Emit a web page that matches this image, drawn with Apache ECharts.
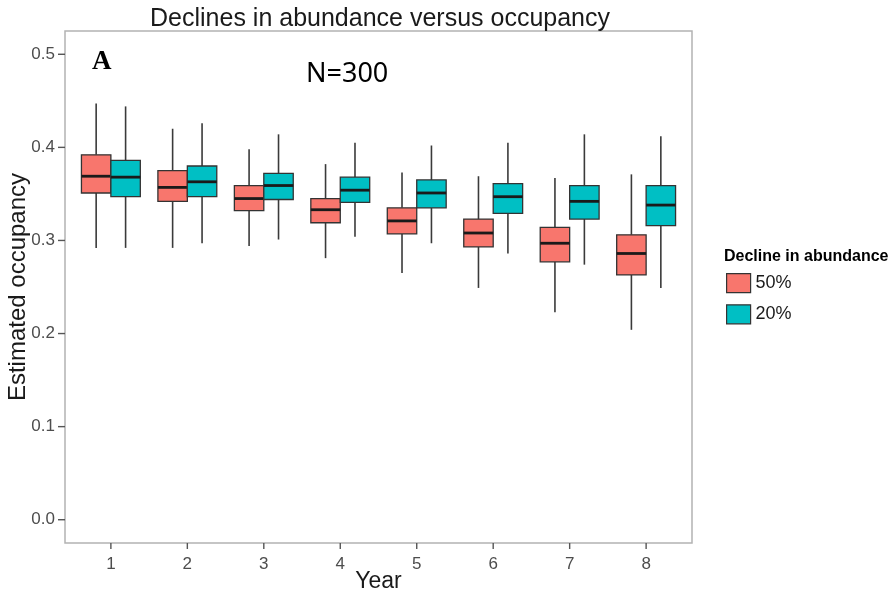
<!DOCTYPE html>
<html>
<head>
<meta charset="utf-8">
<title>Declines in abundance versus occupancy</title>
<script src="https://cdn.jsdelivr.net/npm/echarts@6/dist/echarts.min.js"></script>
<style>
  html, body { margin: 0; padding: 0; background: #fff; }
  #chart { width: 891px; height: 598px; }
</style>
</head>
<body>
<div id="chart"></div>
<script>
// 数据：每年两组箱线图（50% / 20% 丰度下降）
var years = [1, 2, 3, 4, 5, 6, 7, 8];
var yTicks = [0, 0.1, 0.2, 0.3, 0.4, 0.5];

// 50% decline
var low50 = [0.292, 0.292, 0.294, 0.281, 0.265, 0.249, 0.223, 0.204];
var q1_50 = [0.351, 0.342, 0.332, 0.319, 0.307, 0.293, 0.277, 0.263];
var med50 = [0.369, 0.357, 0.345, 0.333, 0.321, 0.308, 0.297, 0.286];
var q3_50 = [0.392, 0.375, 0.359, 0.345, 0.335, 0.323, 0.314, 0.306];
var high50 = [0.447, 0.420, 0.398, 0.382, 0.373, 0.369, 0.367, 0.371];

// 20% decline
var low20 = [0.292, 0.297, 0.301, 0.304, 0.297, 0.286, 0.274, 0.249];
var q1_20 = [0.347, 0.347, 0.344, 0.341, 0.335, 0.329, 0.323, 0.316];
var med20 = [0.368, 0.363, 0.359, 0.354, 0.351, 0.347, 0.342, 0.338];
var q3_20 = [0.386, 0.380, 0.372, 0.368, 0.365, 0.361, 0.359, 0.359];
var high20 = [0.444, 0.426, 0.414, 0.405, 0.402, 0.405, 0.414, 0.412];

function buildRows(lo, q1, med, q3, hi) {
  return years.map(function(y, i) {
    return [y, lo[i], q1[i], med[i], q3[i], hi[i]];
  });
}

// 画一个箱子（通过坐标轴换算位置）
function renderBox(params, api) {
  var x = api.value(0);
  var side = params.seriesIndex === 0 ? -1 : 1;
  var w = api.size([1, 0])[0] * 0.385;
  var cx = api.coord([x, 0])[0] + side * w / 2;
  var yLo = api.coord([x, api.value(1)])[1];
  var yQ1 = api.coord([x, api.value(2)])[1];
  var yMed = api.coord([x, api.value(3)])[1];
  var yQ3 = api.coord([x, api.value(4)])[1];
  var yHi = api.coord([x, api.value(5)])[1];
  var lineStyle = { stroke: '#3a3a3a', lineWidth: 1.6 };
  return {
    type: 'group',
    children: [
      { type: 'line', shape: { x1: cx, y1: yHi, x2: cx, y2: yQ3 }, style: lineStyle },
      { type: 'line', shape: { x1: cx, y1: yQ1, x2: cx, y2: yLo }, style: lineStyle },
      {
        type: 'rect',
        shape: { x: cx - w / 2, y: yQ3, width: w, height: yQ1 - yQ3 },
        style: { fill: api.visual('color'), stroke: '#333', lineWidth: 1.3 }
      },
      {
        type: 'line',
        shape: { x1: cx - w / 2, y1: yMed, x2: cx + w / 2, y2: yMed },
        style: { stroke: '#1a1a1a', lineWidth: 2.8 }
      }
    ]
  };
}

// 坐标轴外侧的刻度线（按刻度值换算位置）
var tickStyle = { stroke: '#555', lineWidth: 1.4 };
function renderYTick(params, api) {
  var cs = params.coordSys;
  var y = api.coord([1, api.value(1)])[1];
  return { type: 'line', shape: { x1: cs.x - 7, y1: y, x2: cs.x, y2: y }, style: tickStyle };
}
function renderXTick(params, api) {
  var cs = params.coordSys;
  var x = api.coord([api.value(0), 0])[0];
  var yb = cs.y + cs.height;
  return { type: 'line', shape: { x1: x, y1: yb, x2: x, y2: yb + 6 }, style: tickStyle };
}

var myChart = echarts.init(document.getElementById('chart'));
var option = {
  animation: false,
  textStyle: { fontFamily: 'Liberation Sans, Arial, sans-serif' },
  title: [
    {
      text: 'Declines in abundance versus occupancy',
      left: 375,
      top: 2,
      textAlign: 'center',
      textStyle: { fontSize: 25, fontWeight: 'normal', color: '#1a1a1a' }
    },
    {
      text: 'A',
      left: 87,
      top: 44,
      textStyle: { fontSize: 27, fontWeight: 'bold', color: '#000', fontFamily: 'Liberation Serif, DejaVu Serif, serif' }
    },
    {
      text: 'N=300',
      left: 301,
      top: 56,
      textStyle: { fontSize: 27, fontWeight: 'normal', color: '#000', fontFamily: 'Noto Sans, Liberation Sans, sans-serif' }
    },
    {
      text: 'Decline in abundance',
      left: 719,
      top: 244,
      textStyle: { fontSize: 16, fontWeight: 'bold', color: '#000' }
    }
  ],
  legend: {
    orient: 'vertical',
    left: 721,
    top: 268,
    itemWidth: 24,
    itemHeight: 19,
    itemGap: 11,
    icon: 'rect',
    itemStyle: { borderColor: '#333', borderWidth: 1.2 },
    textStyle: { fontSize: 18, color: '#1a1a1a' },
    data: ['50%', '20%']
  },
  grid: {
    left: 65,
    right: 199,
    top: 31,
    bottom: 55,
    outerBoundsMode: 'none',
    containLabel: false,
    show: true,
    borderColor: '#b3b3b3',
    borderWidth: 1.5
  },
  xAxis: {
    type: 'value',
    min: 0.4,
    max: 8.6,
    name: 'Year',
    nameLocation: 'middle',
    nameGap: 27,
    nameMoveOverlap: false,
    nameTextStyle: { fontSize: 23, color: '#1a1a1a' },
    axisLine: { show: false, onZero: false },
    splitLine: { show: false },
    axisTick: { show: false },
    axisLabel: { customValues: years, fontSize: 17, color: '#4d4d4d', margin: 13 }
  },
  yAxis: {
    type: 'value',
    min: -0.025,
    max: 0.525,
    name: 'Estimated occupancy',
    nameLocation: 'middle',
    nameGap: 35,
    nameMoveOverlap: false,
    nameTextStyle: { fontSize: 24, color: '#1a1a1a' },
    axisLine: { show: false },
    splitLine: { show: false },
    axisTick: { show: false },
    axisLabel: {
      customValues: yTicks,
      fontSize: 17,
      color: '#4d4d4d',
      margin: 10,
      formatter: function(v) { return v.toFixed(1); }
    }
  },
  series: [
    {
      name: '50%',
      type: 'custom',
      renderItem: renderBox,
      itemStyle: { color: '#F8766D' },
      encode: { x: 0, y: [1, 2, 3, 4, 5] },
      data: buildRows(low50, q1_50, med50, q3_50, high50)
    },
    {
      name: '20%',
      type: 'custom',
      renderItem: renderBox,
      itemStyle: { color: '#00BFC4' },
      encode: { x: 0, y: [1, 2, 3, 4, 5] },
      data: buildRows(low20, q1_20, med20, q3_20, high20)
    },
    {
      name: 'yTicks',
      type: 'custom',
      silent: true,
      clip: false,
      renderItem: renderYTick,
      encode: { x: 0, y: 1 },
      data: yTicks.map(function(v) { return [1, v]; })
    },
    {
      name: 'xTicks',
      type: 'custom',
      silent: true,
      clip: false,
      renderItem: renderXTick,
      encode: { x: 0, y: 1 },
      data: years.map(function(v) { return [v, 0]; })
    }
  ]
};
myChart.setOption(option);
window.addEventListener('resize', function() {
  myChart.resize();
});
</script>
</body>
</html>
